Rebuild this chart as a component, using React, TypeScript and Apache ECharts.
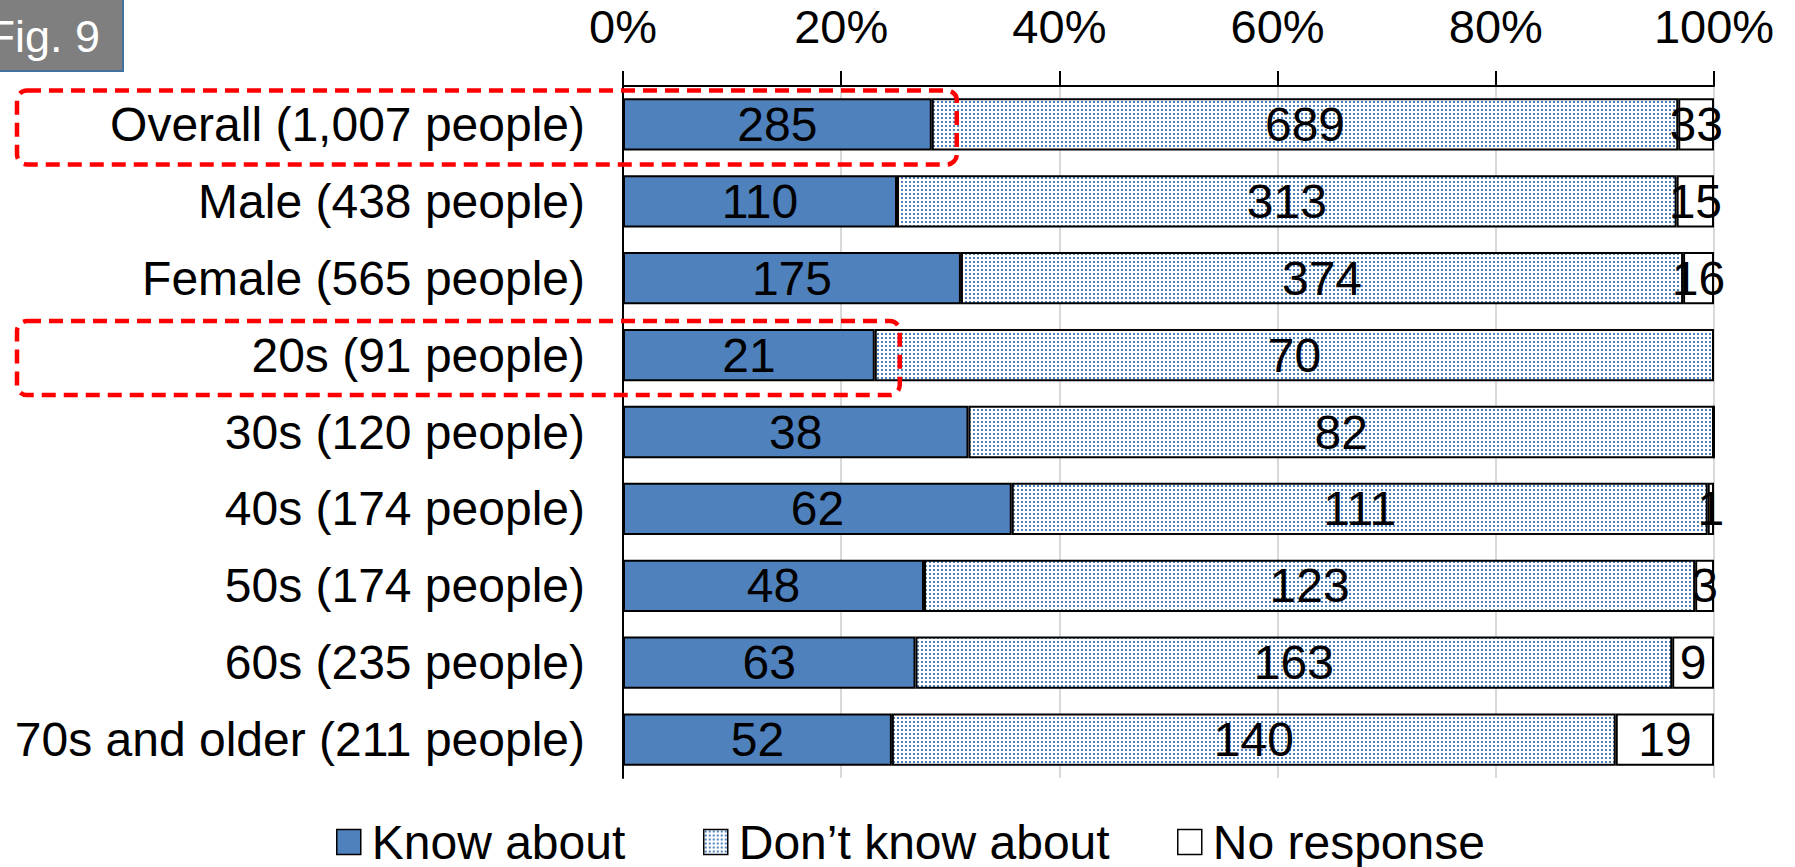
import React, { useEffect, useRef } from 'react';
import * as echarts from 'echarts';

const categories = [
  'Overall (1,007 people)',
  'Male (438 people)',
  'Female (565 people)',
  '20s (91 people)',
  '30s (120 people)',
  '40s (174 people)',
  '50s (174 people)',
  '60s (235 people)',
  '70s and older (211 people)',
];
const knowAbout = [285, 110, 175, 21, 38, 62, 48, 63, 52];
const dontKnow = [689, 313, 374, 70, 82, 111, 123, 163, 140];
const noResponse = [33, 15, 16, 0, 0, 1, 3, 9, 19];
const seriesNames = ['Know about', 'Don\u2019t know about', 'No response'];
const highlightedRows = [0, 3];
const figureLabel = 'Fig. 9';

const FONT = "'Liberation Sans', Arial, Helvetica, sans-serif";

export default function App() {
  const ref = useRef<HTMLDivElement>(null);

  useEffect(() => {
    if (!ref.current) return;
    const chart = echarts.init(ref.current, undefined, { renderer: 'svg' });

    const tile = document.createElement('canvas');
    tile.width = 4;
    tile.height = 4;
    const ctx = tile.getContext('2d')!;
    ctx.fillStyle = '#ffffff';
    ctx.fillRect(0, 0, 4, 4);
    ctx.fillStyle = '#4f81bd';
    ctx.fillRect(1, 1, 2, 2);
    const dotPattern: any = { image: tile, repeat: 'repeat' };

    const totals = knowAbout.map((v, i) => v + dontKnow[i] + noResponse[i]);
    const toItems = (arr: number[]) =>
      arr.map((c, i) => ({ value: (c / totals[i]) * 100, count: c }));

    const labelFmt = (p: any) => (p.data.count === 0 ? '' : String(p.data.count));
    const baseLabel = {
      show: true,
      position: 'inside',
      color: '#000',
      fontSize: 48,
      fontFamily: FONT,
      formatter: labelFmt,
    };

    const colors = ['#4f81bd', dotPattern, '#ffffff'];
    const dataSets = [knowAbout, dontKnow, noResponse];
    const legendLefts = [331, 698, 1172];

    chart.setOption({
      animation: false,
      backgroundColor: '#ffffff',
      textStyle: { fontFamily: FONT },
      grid: { left: 623, right: 81, top: 86, bottom: 89, containLabel: false },
      legend: seriesNames.map((name, k) => ({
        data: [name],
        left: legendLefts[k],
        top: 813,
        icon: 'rect',
        itemWidth: 24,
        itemHeight: 25,
        itemStyle: { borderColor: '#000', borderWidth: 1.5 },
        textStyle: { fontSize: 48, color: '#000', fontFamily: FONT, padding: [0, 0, 0, 6] },
      })),
      xAxis: {
        type: 'value',
        position: 'top',
        min: 0,
        max: 100,
        interval: 20,
        axisLine: { show: true, lineStyle: { color: '#000', width: 2 } },
        axisTick: { show: true, length: 15, lineStyle: { color: '#000', width: 2 } },
        axisLabel: { formatter: '{value}%', fontSize: 47, color: '#000', margin: 36, fontFamily: FONT },
        splitLine: { show: true, lineStyle: { color: '#d9d9d9', width: 2 } },
      },
      yAxis: {
        type: 'category',
        inverse: true,
        data: categories,
        axisLine: { show: true, lineStyle: { color: '#000', width: 2 } },
        axisTick: { show: false },
        axisLabel: { fontSize: 48, color: '#000', margin: 38, fontFamily: FONT },
      },
      series: dataSets.map((arr, k) => ({
        name: seriesNames[k],
        type: 'bar',
        stack: 'total',
        barCategoryGap: '32%',
        data: toItems(arr),
        itemStyle: { color: colors[k], borderColor: '#000', borderWidth: 2 },
        label: baseLabel,
        emphasis: { disabled: true },
      })),
      graphic: [
        {
          type: 'rect',
          id: 'figbox',
          shape: { x: -2, y: -2, width: 125, height: 73 },
          style: { fill: '#7f7f7f', stroke: '#41719c', lineWidth: 2 },
        },
        {
          type: 'text',
          id: 'figtext',
          x: 100,
          y: 36,
          style: {
            text: figureLabel,
            fill: '#ffffff',
            fontSize: 45,
            fontFamily: FONT,
            align: 'right',
            verticalAlign: 'middle',
            textAlign: 'right',
            textVerticalAlign: 'middle',
          },
        },
      ],
    });

    const knowItems = toItems(knowAbout);
    const boxes = highlightedRows.map((row, i) => {
      const p = chart.convertToPixel({ gridIndex: 0 }, [knowItems[row].value, row]) as number[];
      const left = 17;
      const right = p[0] + 25;
      const cy = p[1] + 3;
      return {
        type: 'rect',
        id: 'hl' + i,
        z: 100,
        shape: { x: left, y: cy - 37, width: right - left, height: 74, r: 10 },
        style: { fill: 'none', stroke: '#ff0000', lineWidth: 4.5, lineDash: [14, 8] },
      };
    });
    chart.setOption({ graphic: boxes });

    return () => chart.dispose();
  }, []);

  return (
    <div
      ref={ref}
      style={{ position: 'fixed', left: 0, top: 0, width: 1795, height: 867, background: '#fff' }}
    />
  );
}
